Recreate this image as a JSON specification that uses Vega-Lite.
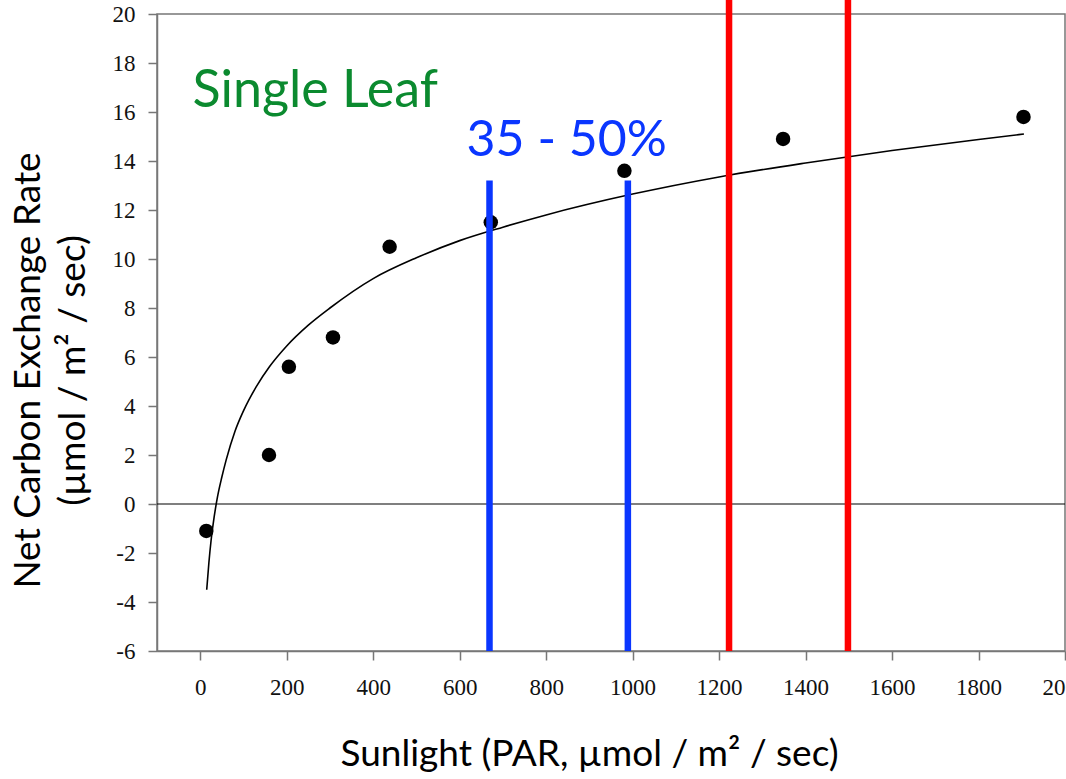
{
  "$schema": "https://vega.github.io/schema/vega-lite/v6.json",
  "width": 908,
  "height": 637,
  "autosize": "none",
  "padding": {"left": 157, "top": 14, "right": 1, "bottom": 128},
  "background": "white",
  "config": {
    "view": {"stroke": "#777777", "strokeWidth": 1.5},
    "axis": {
      "grid": false,
      "domainColor": "#777777",
      "domainWidth": 1.5,
      "tickColor": "#777777",
      "tickWidth": 1.5,
      "tickSize": 9,
      "labelFont": "Liberation Serif",
      "labelFontSize": 23,
      "labelColor": "#111111",
      "titleFont": "Lato",
      "titleFontSize": 37,
      "titleFontWeight": "normal",
      "titleColor": "#000000"
    }
  },
  "resolve": {"scale": {"color": "independent"}},
  "datasets": {
    "points": [
      {"par": 14, "ncer": -1.1},
      {"par": 159, "ncer": 2.0},
      {"par": 205, "ncer": 5.6},
      {"par": 307, "ncer": 6.8},
      {"par": 438, "ncer": 10.5},
      {"par": 672, "ncer": 11.5},
      {"par": 981, "ncer": 13.6},
      {"par": 1348, "ncer": 14.9},
      {"par": 1904, "ncer": 15.8}
    ],
    "curve": [
      {"par": 15, "ncer": -3.5},
      {"par": 20, "ncer": -2.4},
      {"par": 25, "ncer": -1.5},
      {"par": 30, "ncer": -0.8},
      {"par": 40, "ncer": 0.3},
      {"par": 50, "ncer": 1.1},
      {"par": 60, "ncer": 1.8},
      {"par": 80, "ncer": 2.95},
      {"par": 100, "ncer": 3.8},
      {"par": 130, "ncer": 4.8},
      {"par": 160, "ncer": 5.6},
      {"par": 200, "ncer": 6.45},
      {"par": 250, "ncer": 7.3},
      {"par": 300, "ncer": 8.0},
      {"par": 400, "ncer": 9.2},
      {"par": 500, "ncer": 10.05},
      {"par": 600, "ncer": 10.75},
      {"par": 700, "ncer": 11.3},
      {"par": 800, "ncer": 11.8},
      {"par": 1000, "ncer": 12.65},
      {"par": 1200, "ncer": 13.35},
      {"par": 1400, "ncer": 13.92},
      {"par": 1600, "ncer": 14.43},
      {"par": 1800, "ncer": 14.88},
      {"par": 1905, "ncer": 15.1}
    ],
    "bounds": [
      {"group": "blue", "par": 669, "low": -6, "high": 13.2},
      {"group": "blue", "par": 989, "low": -6, "high": 13.2},
      {"group": "red", "par": 1223, "low": -6, "high": 20.6},
      {"group": "red", "par": 1498, "low": -6, "high": 20.6}
    ],
    "labels": [
      {"text": "Single Leaf", "par": -18, "ncer": 16.2, "kind": "green"},
      {"text": "35 - 50%", "par": 616, "ncer": 14.22, "kind": "blue"}
    ]
  },
  "layer": [
    {
      "data": {"values": [{"zero": 0}]},
      "mark": {"type": "rule", "color": "#000000", "strokeWidth": 1.2},
      "encoding": {
        "y": {"field": "zero", "type": "quantitative", "scale": {"domain": [-6, 20]}}
      }
    },
    {
      "data": {"name": "curve"},
      "mark": {"type": "line", "color": "#000000", "strokeWidth": 1.6, "interpolate": "monotone"},
      "encoding": {
        "x": {
          "field": "par", "type": "quantitative",
          "scale": {"domain": [-100, 2000], "nice": false, "zero": false},
          "axis": {
            "values": [0, 200, 400, 600, 800, 1000, 1200, 1400, 1600, 1800, 2000],
            "labelExpr": "toString(datum.value)",
            "labelPadding": 16,
            "labelFlush": false,
            "labelOverlap": false,
            "title": "Sunlight (PAR, µmol / m² / sec)",
            "titleX": 432,
            "titleY": 114,
            "titleAnchor": null,
            "titleAlign": "center",
            "titleBaseline": "alphabetic"
          }
        },
        "y": {
          "field": "ncer", "type": "quantitative",
          "scale": {"domain": [-6, 20], "nice": false, "zero": false},
          "axis": {
            "values": [-6, -4, -2, 0, 2, 4, 6, 8, 10, 12, 14, 16, 18, 20],
            "labelExpr": "toString(datum.value)",
            "labelPadding": 13,
            "labelFlush": false,
            "labelOverlap": false,
            "title": ["Net Carbon Exchange Rate", "(µmol / m² / sec)"],
            "titleAngle": -90,
            "titleX": -118,
            "titleY": 356,
            "titleAlign": "center",
            "titleBaseline": "alphabetic",
            "titleLineHeight": 45
          }
        }
      }
    },
    {
      "data": {"name": "points"},
      "mark": {"type": "circle", "color": "#000000", "opacity": 1, "size": 210},
      "encoding": {
        "x": {"field": "par", "type": "quantitative"},
        "y": {"field": "ncer", "type": "quantitative"}
      }
    },
    {
      "data": {"name": "bounds"},
      "mark": {"type": "rule", "strokeWidth": 6.5, "clip": false},
      "encoding": {
        "x": {"field": "par", "type": "quantitative"},
        "y": {"field": "low", "type": "quantitative"},
        "y2": {"field": "high"},
        "color": {
          "field": "group", "type": "nominal",
          "scale": {"domain": ["blue", "red"], "range": ["#0a36ff", "#ff0000"]},
          "legend": null
        }
      }
    },
    {
      "data": {"name": "labels"},
      "transform": [{"filter": "datum.kind === 'green'"}],
      "mark": {"type": "text", "font": "Lato", "fontSize": 52, "align": "left", "baseline": "alphabetic", "color": "#0b8a2f"},
      "encoding": {
        "x": {"field": "par", "type": "quantitative"},
        "y": {"field": "ncer", "type": "quantitative"},
        "text": {"field": "text"}
      }
    },
    {
      "data": {"name": "labels"},
      "transform": [{"filter": "datum.kind === 'blue'"}],
      "mark": {"type": "text", "font": "Lato", "fontSize": 50, "align": "left", "baseline": "alphabetic", "color": "#0a36ff"},
      "encoding": {
        "x": {"field": "par", "type": "quantitative"},
        "y": {"field": "ncer", "type": "quantitative"},
        "text": {"field": "text"}
      }
    }
  ]
}
